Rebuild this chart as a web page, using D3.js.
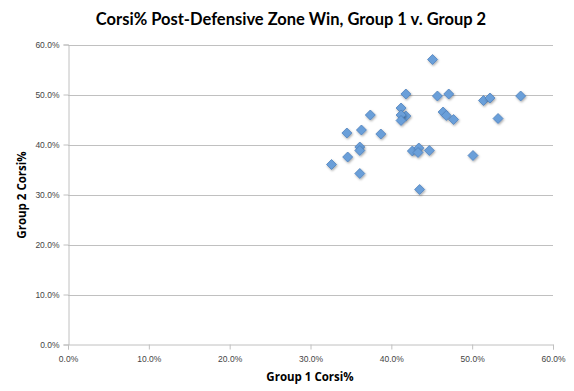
<!DOCTYPE html>
<html><head><meta charset="utf-8">
<script src="https://cdn.jsdelivr.net/npm/d3@7/dist/d3.min.js"></script>
<style>body{margin:0;background:#fff}svg{display:block}</style>
</head><body>
<script>
const group1 = [45.1,41.8,45.7,47.1,51.4,52.2,56.0,41.2,37.4,41.8,41.2,41.2,46.4,46.8,47.7,53.2,34.5,36.3,38.7,36.1,36.1,34.6,32.6,36.1,42.6,43.4,43.3,44.7,50.1,43.5];
const group2 = [57.0,50.1,49.7,50.1,48.8,49.3,49.7,47.3,45.9,45.7,45.9,44.8,46.5,45.8,45.0,45.2,42.3,42.9,42.1,39.5,38.8,37.5,36.0,34.2,38.7,39.3,38.4,38.8,37.8,31.0];
const tickValues = [0,10,20,30,40,50,60];
const title = "Corsi% Post-Defensive Zone Win, Group 1 v. Group 2";
const xTitle = "Group 1 Corsi%";
const yTitle = "Group 2 Corsi%";

const W=574,H=391;
const svg=d3.select("body").append("svg").attr("width",W).attr("height",H);
const x=d3.scaleLinear().domain([0,60]).range([68,553]);
const y=d3.scaleLinear().domain([0,60]).range([344.5,44.5]);
const fmt=d=>d.toFixed(1)+"%";
const grid="#c0c0c0";

svg.append("g").selectAll("line").data(tickValues.filter(d=>d>0)).join("line")
  .attr("x1",68).attr("x2",553).attr("y1",d=>Math.round(y(d))+0.5).attr("y2",d=>Math.round(y(d))+0.5)
  .attr("stroke",grid).attr("stroke-width",1);

const yAxis=svg.append("g").attr("transform","translate(68.5,0)")
  .call(d3.axisLeft(y).tickValues(tickValues).tickFormat(fmt).tickSize(5).tickPadding(4));
const xAxis=svg.append("g").attr("transform","translate(0,344.5)")
  .call(d3.axisBottom(x).tickValues(tickValues).tickFormat(fmt).tickSize(5).tickPadding(6));
[yAxis,xAxis].forEach(a=>{
  a.select(".domain").attr("stroke",grid);
  a.selectAll(".tick line").attr("stroke",grid);
  a.selectAll("text").attr("fill","#444").style("font-family","'Liberation Sans',Arial,sans-serif").style("font-size","8.5px");
});

const defs=svg.append("defs");
const f=defs.append("filter").attr("id","sh").attr("x","-50%").attr("y","-50%").attr("width","200%").attr("height","200%");
f.append("feDropShadow").attr("dx",0.8).attr("dy",1.2).attr("stdDeviation",0.8).attr("flood-color","#000").attr("flood-opacity",0.35);

const pts=group1.map((g,i)=>({x:g,y:group2[i]}));
svg.append("g").selectAll("path").data(pts).join("path")
  .attr("transform",d=>`translate(${x(d.x)},${y(d.y)})`)
  .attr("d","M0,-5L5,0L0,5L-5,0Z")
  .attr("fill","#6b9fd9").attr("stroke","#4f81bd").attr("stroke-width",0.8)
  .attr("filter","url(#sh)");

svg.append("text").attr("x",291).attr("y",25).attr("text-anchor","middle")
  .style("font-family","Lato,sans-serif").style("font-weight","bold").style("font-size","16.5px").attr("fill","#000").text(title);
svg.append("text").attr("x",310).attr("y",381).attr("text-anchor","middle")
  .style("font-family","'Open Sans',sans-serif").style("font-weight","bold").style("font-size","11.5px").text(xTitle);
svg.append("text").attr("transform","translate(26,195) rotate(-90)").attr("text-anchor","middle")
  .style("font-family","'Open Sans',sans-serif").style("font-weight","bold").style("font-size","11.5px").text(yTitle);
</script>
</body></html>
